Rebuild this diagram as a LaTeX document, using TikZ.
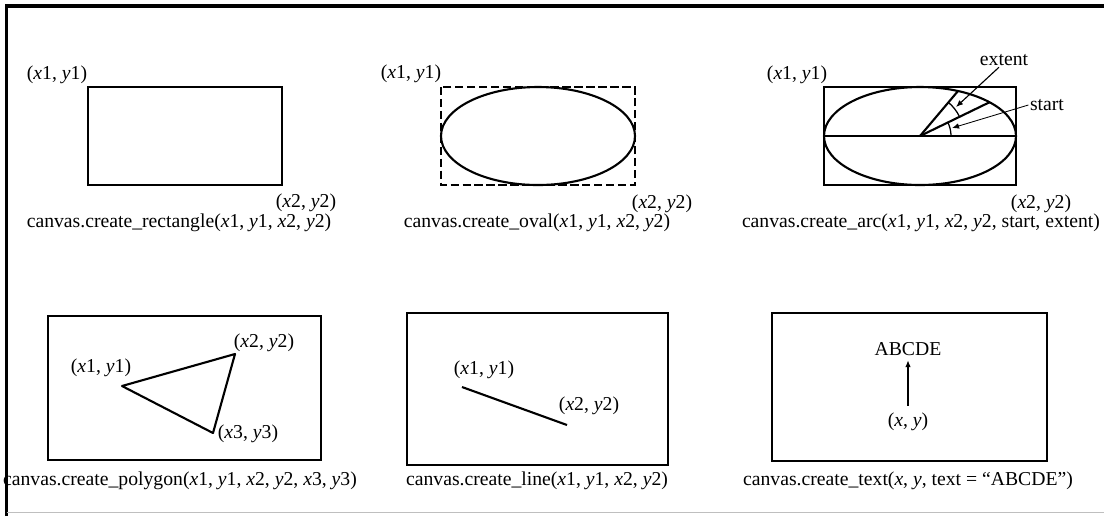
\documentclass[tikz,border=0pt]{standalone}
\usepackage{fontspec}
\setmainfont{Liberation Serif}
\usetikzlibrary{arrows.meta,positioning}
\newcommand{\pxy}[2]{\textit{x}#1, \textit{y}#2}

\begin{document}
\begin{tikzpicture}[x=0.025cm,y=-0.025cm,font=\fontsize{14}{16}\selectfont,
    box/.style={line width=1.5pt},
    dbox/.style={line width=1.5pt,dash pattern=on 6pt off 2.5pt},
    lab/.style={inner sep=1pt},
    tip/.style={-{Latex[length=5pt,width=4pt]},line width=0.8pt}]
\useasboundingbox (0,0) rectangle (1104,516);
\draw[line width=2.8pt] (6.5,516) -- (6.5,6) -- (1104,6);
\draw[black!25,line width=0.6pt] (6.5,512) -- (1104,512);
\foreach \cx/\cy/\nm/\txt in {179/223/capRect/{canvas.create\_rectangle(\pxy11, \pxy22)},
    537/223/capOval/{canvas.create\_oval(\pxy11, \pxy22)},
    921/223/capArc/{canvas.create\_arc(\pxy11, \pxy22, start, extent)},
    180/481/capPoly/{canvas.create\_polygon(\pxy11, \pxy22, \pxy33)},
    537/481/capLine/{canvas.create\_line(\pxy11, \pxy22)},
    908/481/capText/{canvas.create\_text(\textit{x}, \textit{y}, text = ``ABCDE'')}} {
    \node[lab] (\nm) at (\cx,\cy) {\txt};
}
% rectangle
\draw[box] (88,87) rectangle (282,185);
\node[lab] (rectA) at (57,75) {(\pxy11)};
\node[lab] (rectB) at (306,203) {(\pxy22)};
% oval
\draw[dbox] (441,87) rectangle (635,185);
\draw[box] (538,136) ellipse [x radius=97, y radius=49];
\node[lab] (ovalA) at (411,74) {(\pxy11)};
\node[lab] (ovalB) at (662,204) {(\pxy22)};
% arc
\draw[box] (824,87) rectangle (1016,185);
\draw[box] (920,136) ellipse [x radius=96, y radius=49];
\draw[box] (824,136) -- (1016,136);
\coordinate (o) at (920,136);
\coordinate (startEnd) at (990,102);
\coordinate (extEnd) at (958,91);
\draw[box] (o) -- (startEnd);
\draw[box] (o) -- (extEnd);
\draw[line width=0.9pt] (o) ++(0:31) arc[start angle=0, end angle=-26, radius=31];
\draw[line width=0.9pt] (o) ++(-26:44) arc[start angle=-26, end angle=-50, radius=44];
\coordinate (startTip) at (952,128);
\coordinate (extTip) at (956,107);
\node[lab] (arcA) at (797,75) {(\pxy11)};
\node[lab] (arcB) at (1041,204) {(\pxy22)};
\node[lab] (ext) at (1004,60) {extent};
\node[lab] (st) at (1047,105) {start};
\draw[tip] (ext.235) -- (extTip);
\draw[tip,line width=0.6pt] (st.west) -- (startTip);
% polygon
\draw[box] (48,316) rectangle (321,460);
\coordinate (p1) at (122,386);
\coordinate (p2) at (235,354);
\coordinate (p3) at (213,433);
\draw[box,line join=round] (p1) -- (p2) -- (p3) -- cycle;
\node[lab] (polyA) at (101,368) {(\pxy11)};
\node[lab] (polyB) at (264,343) {(\pxy22)};
\node[lab] (polyC) at (248,434) {(\pxy33)};
% line
\draw[box] (407,313) rectangle (668,465);
\coordinate (l1) at (462,387);
\coordinate (l2) at (567,425);
\draw[box] (l1) -- (l2);
\node[lab] (lineA) at (484,370) {(\pxy11)};
\node[lab] (lineB) at (589,406) {(\pxy22)};
% text
\draw[box] (772,313) rectangle (1047,461);
\node[lab] (abc) at (908,349) {ABCDE};
\node[lab] (pxy) at (908,422) {(\textit{x}, \textit{y})};
\draw[tip,line width=1.2pt,shorten <=4pt,shorten >=2pt] (pxy.north) -- (abc.south);
\end{tikzpicture}
\end{document}
